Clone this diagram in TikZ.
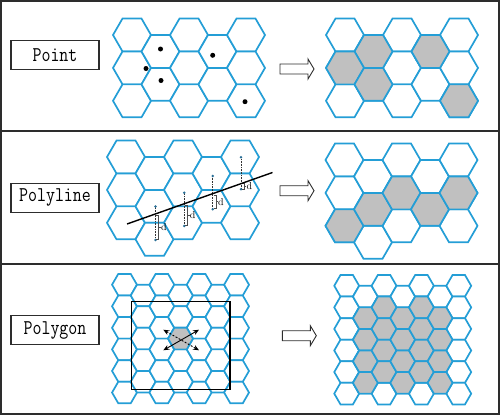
\documentclass[tikz,border=0pt]{standalone}
\usepackage{graphicx}
\usetikzlibrary{arrows.meta}
\definecolor{hexblue}{RGB}{36,158,214}
\definecolor{cellgray}{RGB}{192,192,192}
\definecolor{framegray}{RGB}{45,45,45}
\definecolor{dotblue}{RGB}{40,110,150}
\newcommand\lblfont{\ttfamily\fontsize{21}{21}\selectfont}
\tikzset{
  hexline/.style={draw=hexblue, line width=1.7pt, line join=miter},
  framestyle/.style={draw=framegray, line width=1.6pt},
  lblbox/.style={draw=framegray, line width=1.2pt, minimum width=88pt, minimum height=29pt, inner sep=0pt, font=\lblfont},
  barrow/.style={draw=framegray, fill=white, line width=0.9pt, line join=miter},
  polyln/.style={draw=black, line width=1.4pt},
  vdotted/.style={draw=black!80, line width=0.9pt, dash pattern=on 0.8pt off 0.8pt},
  brk/.style={draw=black!70, line width=0.6pt},
  dlabel/.style={font=\fontsize{10}{10}\selectfont, inner sep=0pt, anchor=west},
  polyrect/.style={draw=black, line width=1.4pt},
  dblarrow/.style={{Stealth[length=6pt,width=5pt]}-{Stealth[length=6pt,width=5pt]}, line width=0.9pt},
}
\newcommand\hexcell[4]{\filldraw[hexline, fill=#4] (#1,#2) ++(0:#3) -- ++(120:#3) -- ++(180:#3) -- ++(240:#3) -- ++(300:#3) -- ++(0:#3) -- cycle;}
% #1 x0, #2 y0, #3 R, #4 col, #5 row, #6 fill
\newcommand\hexat[6]{\pgfmathsetmacro\hx{#1+1.5*#3*#4}\pgfmathsetmacro\hy{#2+0.8660254*#3*(2*#5+mod(#4,2))}\hexcell{\hx}{\hy}{#3}{#6}}
% #1 x0, #2 y0, #3 R, #4 col, #5 last row
\newcommand\hexcolumn[5]{\foreach \rr in {0,...,#5}{\hexat{#1}{#2}{#3}{#4}{\rr}{white}}}
\newcommand\blockarrow[2]{\draw[barrow] (#1,#2-5) -- ++(28,0) -- ++(0,-5) -- ++(6,10) -- ++(-6,10) -- ++(0,-5) -- ++(-28,0) -- cycle;}
\begin{document}
\begin{tikzpicture}[x=1pt,y=-1pt]
\useasboundingbox (0,0) rectangle (500,415);
% frame
\draw[framestyle] (0.8,0.8) rectangle (498.7,414.2);
\draw[framestyle] (0.8,131) -- (498.7,131);
\draw[framestyle] (0.8,264) -- (498.7,264);
% labels
\node[lblbox] (lpoint) at (55,54.9) {\scalebox{0.83}[1]{Point}};
\node[lblbox] (lpolyline) at (55,197.8) {\scalebox{0.83}[1]{Polyline}};
\node[lblbox] (lpolygon) at (55,330) {\scalebox{0.83}[1]{Polygon}};
% ===== Panel 1 =====
\foreach \c/\n in {0/2,1/1,2/2,3/1,4/2}{\hexcolumn{132}{35}{19}{\c}{\n}}
\foreach \c/\n in {0/2,1/1,2/2,3/1,4/2}{\hexcolumn{345}{35}{19}{\c}{\n}}
\foreach \c/\r in {1/0,0/1,1/1,3/0,4/2}{\hexat{345}{35}{19}{\c}{\r}{cellgray}}
\foreach \p in {(160.5,49),(146,68.5),(161,80.5),(212.7,55.3),(245,101.7)}{\fill[black] \p circle (2.5);}
\blockarrow{280}{69}
% ===== Panel 2 =====
\foreach \c/\n in {0/2,1/2,2/2,3/1,4/2}{\hexcolumn{126}{157}{19}{\c}{\n}}
\foreach \c/\n in {0/2,1/2,2/2,3/1,4/2}{\hexcolumn{344.5}{160}{19}{\c}{\n}}
\foreach \c/\r in {0/2,1/1,2/1,3/1,4/1}{\hexat{344.5}{160}{19}{\c}{\r}{cellgray}}
\blockarrow{280}{190.7}
\coordinate (pl1) at (127,224);
\coordinate (pl2) at (272.5,172.5);
\foreach \i/\x/\ya/\yb/\ba/\bb/\bm in {1/155.5/206.5/240/215/239/227.5, 2/184.3/192.7/226/205/225/215, 3/212.7/176/209.3/195/208.3/201.7, 4/241/157.3/189.3/183.5/189/186.5}{
  \coordinate (va\i) at (\x,\ya);
  \coordinate (vb\i) at (\x,\yb);
  \draw[vdotted] (va\i) -- (vb\i);
  \fill[dotblue] (va\i) circle (1.4);
  \fill[dotblue] (vb\i) circle (1.4);
  \draw[brk] (\x+0.8,\ba) -- (\x+3.2,\ba) -- (\x+3.2,\bb) -- (\x+0.8,\bb);
  \draw[brk] (\x+3.2,\bm) -- (\x+5.2,\bm) node[dlabel] (d\i) {d};
}
\draw[polyln] (pl1) -- (pl2);
% ===== Panel 3 =====
\foreach \c/\n in {0/5,1/4,2/5,3/4,4/5,5/4,6/5}{\hexcolumn{124.5}{284.7}{12.45}{\c}{\n}}
\hexat{124.5}{284.7}{12.45}{3}{2}{cellgray}
\foreach \c/\n in {0/5,1/4,2/5,3/4,4/5,5/4,6/5}{\hexcolumn{346.7}{285.8}{12.45}{\c}{\n}}
\foreach \c in {1,...,5}{\foreach \r in {1,...,4}{\hexat{346.7}{285.8}{12.45}{\c}{\r}{cellgray}}}
\draw[polyrect] (131.7,301.3) rectangle (230,389.7);
\coordinate (sa) at (163.3,350.3);
\coordinate (sb) at (199,329.7);
\coordinate (da) at (163.3,329.7);
\coordinate (db) at (199,350.3);
\draw[dblarrow] (sa) -- (sb);
\draw[dblarrow, dash pattern=on 2pt off 1.5pt] (da) -- (db);
\blockarrow{282.3}{335.7}
\end{tikzpicture}
\end{document}
